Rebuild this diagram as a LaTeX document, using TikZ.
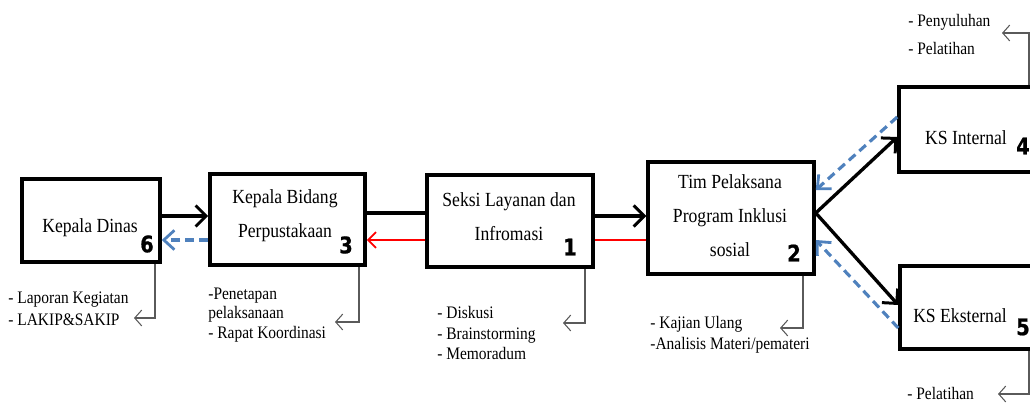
\documentclass[tikz,border=0pt]{standalone}
\usepackage{fontspec}
\setmainfont{Liberation Serif}[FakeStretch=0.88]
\newfontfamily\numfont{DejaVu Sans}[FakeStretch=0.85,BoldFeatures={FakeBold=0.8}]
\usetikzlibrary{arrows.meta,fit}
\definecolor{dblue}{RGB}{79,129,189}
\definecolor{lgray}{RGB}{90,90,90}
\begin{document}
\begin{tikzpicture}[x=0.02cm,y=-0.02cm,
  box/.style={draw,line width=2pt,inner sep=0pt},
  boxtext/.style={font=\fontsize{11.4}{19.3}\selectfont,align=center,inner sep=0pt},
  num/.style={font=\numfont\bfseries\fontsize{13}{13}\selectfont,inner sep=0pt},
  lbl/.style={font=\fontsize{10}{11.6}\selectfont,align=left,anchor=west,inner sep=0pt},
  blk/.style={line width=1.9pt,-{Straight Barb[length=6pt,width=12pt,line width=1.7pt]}},
  blkline/.style={line width=1.9pt},
  dsh/.style={dblue,line width=1.8pt,dash pattern=on 5pt off 3pt,-{Straight Barb[length=6pt,width=11pt,line width=1.6pt]}},
  redarr/.style={red,line width=1.2pt,-{Straight Barb[length=4.5pt,width=9pt,line width=1.1pt]}},
  redline/.style={red,line width=1.2pt},
  gry/.style={lgray,line width=0.6pt,-{Straight Barb[length=4pt,width=9pt,line width=0.6pt]}}
]
\useasboundingbox (0,0) rectangle (1030,402);
\clip (0,0) rectangle (1030,402);

% boxes
\node[box,fit={(22,179) (160,262)}] (b6) {};
\node[box,fit={(210,174) (365,265)}] (b3) {};
\node[box,fit={(427,175) (593,267)}] (b1) {};
\node[box,fit={(648,162) (814,274)}] (b2) {};
\node[box,fit={(899,87) (1060,172)}] (b4) {};
\node[box,fit={(900,266) (1060,349)}] (b5) {};

% box texts
\node[boxtext] (t6) at (90,228) {Kepala Dinas};
\node[boxtext] (t3) at (285,215.5) {Kepala Bidang\\Perpustakaan};
\node[boxtext] (t1) at (509,217) {Seksi Layanan dan\\Infromasi};
\node[boxtext] (t2) at (730,216) {Tim Pelaksana\\Program Inklusi\\sosial};
\node[boxtext] (t4) at (966,138) {KS Internal};
\node[boxtext] (t5) at (960,316) {KS Eksternal};

% numbers
\node[num] (n6) at (147,244) {6};
\node[num] (n3) at (346,245) {3};
\node[num] (n1) at (570,247) {1};
\node[num] (n2) at (794,253) {2};
\node[num] (n4) at (1023,146) {4};
\node[num] (n5) at (1023,327) {5};

% main connectors
\draw[blk] (b6.east |- 0,216) -- (b3.west |- 0,216);
\draw[dsh] (b3.west |- 0,240) -- (b6.east |- 0,240);
\draw[blkline] (b3.east |- 0,213) -- (b1.west |- 0,213);
\draw[redarr] (b1.west |- 0,240) -- (b3.east |- 0,240);
\draw[blk] (b1.east |- 0,216) -- (b2.west |- 0,216);
\draw[redline] (b2.west |- 0,240) -- (b1.east |- 0,240);
\draw[blk] (b2.east |- 0,213) -- (b4.west |- 0,137);
\draw[blk] (b2.east |- 0,213) -- (b5.west |- 0,305);
\draw[dsh] (b4.west |- 0,117) -- (b2.east |- 0,190);
\draw[dsh] (b5.west |- 0,328) -- (b2.east |- 0,240);

% labels
\node[lbl,font=\fontsize{10}{12.5}\selectfont] (l6) at (8,309) {- Laporan Kegiatan\\- LAKIP\&SAKIP};
\node[lbl,font=\fontsize{10}{11.3}\selectfont] (l3) at (208,315) {-Penetapan\\pelaksanaan\\- Rapat Koordinasi};
\node[lbl] (l1) at (437,333) {- Diskusi\\- Brainstorming\\- Memoradum};
\node[lbl,font=\fontsize{10}{11.9}\selectfont] (l2) at (650,334.5) {- Kajian Ulang\\-Analisis Materi/pemateri};
\node[lbl,font=\fontsize{10}{16.4}\selectfont] (l4) at (908,34.5) {- Penyuluhan\\- Pelatihan};
\node[lbl] (l5) at (907,393) {- Pelatihan};

% gray elbow connectors
\coordinate (e6) at (134,318);
\coordinate (e3) at (335,322);
\coordinate (e1) at (563,323);
\coordinate (e2) at (780,328);
\coordinate (e4) at (1002,33);
\coordinate (e5) at (998,394);
\draw[gry] (b6.south -| 155,0) |- (e6);
\draw[gry] (b3.south -| 359,0) |- (e3);
\draw[gry] (b1.south -| 585,0) |- (e1);
\draw[gry] (b2.south -| 803,0) |- (e2);
\draw[gry] (b4.north -| 1029,0) |- (e4);
\draw[gry] (b5.south -| 1029,0) |- (e5);
\end{tikzpicture}
\end{document}
